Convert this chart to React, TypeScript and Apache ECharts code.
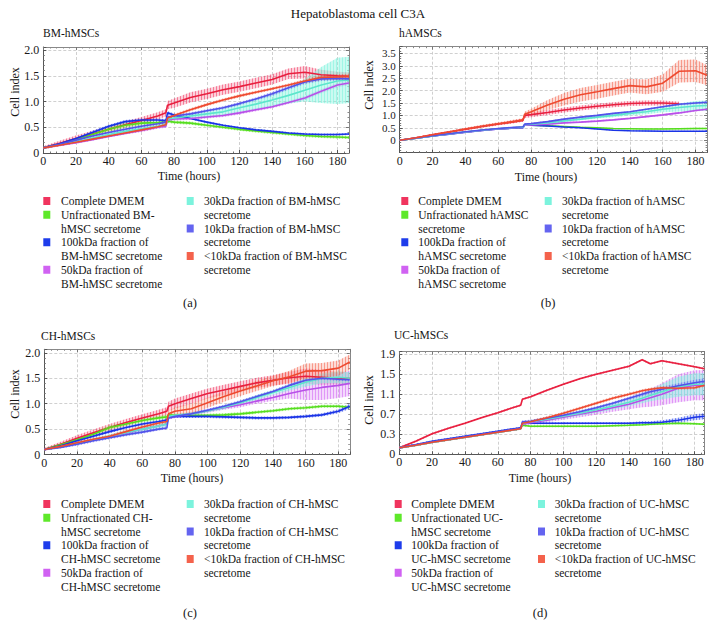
import React, { useEffect, useRef } from 'react';
import * as echarts from 'echarts';

const FONT = 'Liberation Serif, DejaVu Serif, Times New Roman, serif';
const MAIN_TITLE = 'Hepatoblastoma cell C3A';
const PANEL_TITLES = ['BM-hMSCs', 'hAMSCs', 'CH-hMSCs', 'UC-hMSCs'];
const PANEL_TAGS = ['(a)', '(b)', '(c)', '(d)'];
const X_NAME = 'Time (hours)';
const Y_NAME = 'Cell index';

const SWATCH_COLORS = ['#F0345E', '#5EE82A', '#1E3CEB', '#D062F2', '#7CF3DD', '#6464F0', '#F4624C'];
const LINE_COLORS = ['#E8203F', '#55DD1E', '#1A33E6', '#B850E8', '#5EE6CC', '#5252EA', '#EE4A30'];
const BAND_OPACITY = [0.22, 0.25, 0.2, 0.25, 0.4, 0.2, 0.22];

// Legend texts (per panel)
const LEGEND_A = [
  ['Complete DMEM'], ['Unfractionated BM-', 'hMSC secretome'], ['100kDa fraction of', 'BM-hMSC secretome'], ['50kDa fraction of', 'BM-hMSC secretome'],
  ['30kDa fraction of BM-hMSC', 'secretome'], ['10kDa fraction of BM-hMSC', 'secretome'], ['<10kDa fraction of BM-hMSC', 'secretome'],
];
const LEGEND_B = [
  ['Complete DMEM'], ['Unfractionated hAMSC', 'secretome'], ['100kDa fraction of', 'hAMSC secretome'], ['50kDa fraction of', 'hAMSC secretome'],
  ['30kDa fraction of hAMSC', 'secretome'], ['10kDa fraction of hAMSC', 'secretome'], ['<10kDa fraction of hAMSC', 'secretome'],
];
const LEGEND_C = [
  ['Complete DMEM'], ['Unfractionated CH-', 'hMSC secretome'], ['100kDa fraction of', 'CH-hMSC secretome'], ['50kDa fraction of', 'CH-hMSC secretome'],
  ['30kDa fraction of CH-hMSC', 'secretome'], ['10kDa fraction of CH-hMSC', 'secretome'], ['<10kDa fraction of CH-hMSC', 'secretome'],
];
const LEGEND_D = [
  ['Complete DMEM'], ['Unfractionated UC-', 'hMSC secretome'], ['100kDa fraction of', 'UC-hMSC secretome'], ['50kDa fraction of', 'UC-hMSC secretome'],
  ['30kDa fraction of UC-hMSC', 'secretome'], ['10kDa fraction of UC-hMSC', 'secretome'], ['<10kDa fraction of UC-hMSC', 'secretome'],
];

// ---------- Panel A (BM-hMSCs) ----------
const timesA = [0, 10, 20, 30, 40, 50, 60, 70, 75, 76, 80, 90, 100, 110, 120, 130, 140, 150, 160, 170, 180, 187];
const dmemA = [0.10, 0.19, 0.28, 0.37, 0.46, 0.55, 0.63, 0.72, 0.78, 0.93, 0.97, 1.08, 1.15, 1.23, 1.29, 1.36, 1.43, 1.54, 1.57, 1.52, 1.50, 1.49];
const unfracA = [0.10, 0.17, 0.26, 0.36, 0.46, 0.54, 0.58, 0.59, 0.60, 0.62, 0.60, 0.58, 0.54, 0.50, 0.46, 0.43, 0.40, 0.37, 0.34, 0.32, 0.31, 0.30];
const kda100A = [0.10, 0.18, 0.28, 0.40, 0.52, 0.61, 0.64, 0.64, 0.63, 0.78, 0.74, 0.67, 0.60, 0.54, 0.49, 0.45, 0.42, 0.39, 0.37, 0.36, 0.36, 0.37];
const kda50A = [0.10, 0.15, 0.20, 0.26, 0.32, 0.38, 0.44, 0.50, 0.52, 0.64, 0.66, 0.67, 0.70, 0.73, 0.78, 0.84, 0.90, 0.98, 1.07, 1.20, 1.32, 1.36];
const kda30A = [0.10, 0.16, 0.22, 0.29, 0.36, 0.42, 0.47, 0.52, 0.55, 0.66, 0.68, 0.72, 0.76, 0.80, 0.88, 0.95, 1.03, 1.12, 1.22, 1.32, 1.40, 1.42];
const kda10A = [0.10, 0.17, 0.25, 0.33, 0.40, 0.46, 0.52, 0.57, 0.60, 0.70, 0.72, 0.76, 0.82, 0.88, 0.96, 1.05, 1.15, 1.27, 1.38, 1.44, 1.45, 1.44];
const lt10A = [0.10, 0.15, 0.21, 0.27, 0.33, 0.39, 0.45, 0.51, 0.55, 0.68, 0.73, 0.84, 0.94, 1.03, 1.11, 1.18, 1.25, 1.32, 1.40, 1.47, 1.48, 1.49];
const errDmemA = [0.03, 0.05, 0.06, 0.06, 0.06, 0.06, 0.07, 0.07, 0.07, 0.08, 0.09, 0.10, 0.10, 0.10, 0.10, 0.10, 0.10, 0.10, 0.12, 0.10, 0.08, 0.08];
const errUnfracA = [0.02, 0.03, 0.03, 0.04, 0.05, 0.05, 0.05, 0.04, 0.04, 0.03, 0.03, 0.03, 0.03, 0.03, 0.03, 0.03, 0.03, 0.03, 0.03, 0.03, 0.03, 0.03];
const err100A = [0.02, 0.02, 0.02, 0.03, 0.03, 0.03, 0.03, 0.03, 0.03, 0.03, 0.03, 0.02, 0.02, 0.02, 0.02, 0.02, 0.02, 0.02, 0.02, 0.02, 0.02, 0.02];
const err50A = [0.02, 0.02, 0.02, 0.02, 0.02, 0.02, 0.03, 0.03, 0.03, 0.03, 0.03, 0.03, 0.03, 0.03, 0.03, 0.03, 0.03, 0.03, 0.04, 0.04, 0.04, 0.04];
const err30A = [0.02, 0.02, 0.02, 0.03, 0.03, 0.03, 0.03, 0.03, 0.03, 0.04, 0.04, 0.05, 0.06, 0.07, 0.08, 0.10, 0.12, 0.16, 0.22, 0.35, 0.45, 0.45];
const err10A = [0.02, 0.02, 0.02, 0.02, 0.02, 0.03, 0.03, 0.03, 0.03, 0.03, 0.03, 0.03, 0.03, 0.03, 0.03, 0.03, 0.04, 0.04, 0.04, 0.04, 0.04, 0.04];
const errLt10A = [0.02, 0.02, 0.02, 0.02, 0.02, 0.02, 0.03, 0.03, 0.03, 0.03, 0.03, 0.03, 0.03, 0.03, 0.03, 0.03, 0.03, 0.03, 0.04, 0.05, 0.05, 0.05];

// ---------- Panel B (hAMSCs) ----------
const timesB = [0, 10, 20, 30, 40, 50, 60, 70, 75, 76, 80, 90, 100, 110, 120, 130, 140, 150, 160, 170, 180, 187];
const dmemB = [0, 0.10, 0.22, 0.33, 0.44, 0.55, 0.65, 0.75, 0.80, 1.00, 1.03, 1.12, 1.22, 1.30, 1.37, 1.43, 1.48, 1.50, 1.50, 1.47, null, null];
const unfracB = [0, 0.08, 0.17, 0.25, 0.33, 0.40, 0.46, 0.50, 0.52, 0.62, 0.60, 0.58, 0.55, 0.52, 0.50, 0.47, 0.46, 0.45, 0.45, 0.46, 0.47, 0.47];
const kda100B = [0, 0.08, 0.17, 0.24, 0.32, 0.39, 0.45, 0.49, 0.50, 0.62, 0.60, 0.57, 0.53, 0.50, 0.45, 0.40, 0.38, 0.37, 0.36, 0.36, 0.36, 0.36];
const kda50B = [0, 0.08, 0.17, 0.24, 0.32, 0.39, 0.45, 0.50, 0.51, 0.60, 0.61, 0.65, 0.70, 0.73, 0.77, 0.82, 0.88, 0.95, 1.02, 1.10, 1.20, 1.25];
const kda30B = [0, 0.08, 0.17, 0.25, 0.33, 0.40, 0.46, 0.51, 0.52, 0.62, 0.64, 0.70, 0.78, 0.85, 0.93, 1.00, 1.08, 1.15, 1.25, 1.32, 1.38, 1.40];
const kda10B = [0, 0.09, 0.18, 0.26, 0.34, 0.41, 0.47, 0.52, 0.54, 0.65, 0.67, 0.75, 0.85, 0.93, 1.00, 1.08, 1.15, 1.25, 1.35, 1.45, 1.50, 1.53];
const lt10B = [0, 0.10, 0.22, 0.33, 0.45, 0.56, 0.66, 0.76, 0.82, 1.05, 1.15, 1.42, 1.65, 1.83, 1.95, 2.08, 2.20, 2.15, 2.30, 2.78, 2.80, 2.62];
const errDmemB = [0.02, 0.03, 0.04, 0.04, 0.05, 0.05, 0.05, 0.06, 0.06, 0.10, 0.10, 0.10, 0.10, 0.10, 0.10, 0.10, 0.10, 0.10, 0.10, 0.08, null, null];
const errUnfracB = [0.02, 0.02, 0.02, 0.02, 0.02, 0.02, 0.02, 0.02, 0.02, 0.02, 0.02, 0.02, 0.02, 0.02, 0.02, 0.02, 0.02, 0.02, 0.02, 0.03, 0.03, 0.03];
const err100B = [0.02, 0.02, 0.02, 0.02, 0.02, 0.02, 0.02, 0.02, 0.02, 0.02, 0.02, 0.02, 0.02, 0.02, 0.02, 0.02, 0.02, 0.02, 0.02, 0.02, 0.02, 0.02];
const err50B = [0.02, 0.02, 0.02, 0.02, 0.02, 0.02, 0.02, 0.02, 0.02, 0.03, 0.03, 0.03, 0.03, 0.03, 0.03, 0.03, 0.03, 0.03, 0.04, 0.04, 0.04, 0.04];
const err30B = [0.02, 0.02, 0.02, 0.02, 0.02, 0.02, 0.02, 0.02, 0.02, 0.03, 0.03, 0.04, 0.05, 0.05, 0.06, 0.07, 0.08, 0.10, 0.12, 0.16, 0.20, 0.20];
const err10B = [0.02, 0.02, 0.02, 0.02, 0.02, 0.02, 0.02, 0.02, 0.02, 0.03, 0.03, 0.03, 0.03, 0.03, 0.03, 0.03, 0.03, 0.03, 0.04, 0.04, 0.04, 0.04];
const errLt10B = [0.02, 0.03, 0.04, 0.05, 0.05, 0.06, 0.06, 0.07, 0.07, 0.10, 0.12, 0.20, 0.25, 0.27, 0.28, 0.28, 0.28, 0.30, 0.35, 0.45, 0.45, 0.40];

// ---------- Panel C (CH-hMSCs) ----------
const timesC = [0, 10, 20, 30, 40, 50, 60, 70, 75, 76, 80, 90, 100, 110, 120, 130, 140, 150, 160, 170, 180, 187];
const dmemC = [0.10, 0.20, 0.32, 0.43, 0.53, 0.63, 0.72, 0.80, 0.85, 0.95, 1.00, 1.10, 1.20, 1.27, 1.34, 1.41, 1.46, 1.51, 1.54, 1.52, 1.50, 1.50];
const unfracC = [0.10, 0.19, 0.29, 0.40, 0.53, 0.60, 0.67, 0.72, 0.74, 0.78, 0.77, 0.77, 0.77, 0.78, 0.80, 0.83, 0.86, 0.90, 0.92, 0.95, 0.95, 0.93];
const kda100C = [0.10, 0.17, 0.27, 0.36, 0.45, 0.53, 0.60, 0.65, 0.68, 0.75, 0.75, 0.75, 0.75, 0.74, 0.73, 0.72, 0.72, 0.73, 0.75, 0.78, 0.85, 0.95];
const kda50C = [0.10, 0.15, 0.22, 0.29, 0.35, 0.42, 0.50, 0.56, 0.60, 0.72, 0.75, 0.80, 0.86, 0.92, 0.98, 1.05, 1.12, 1.20, 1.27, 1.32, 1.36, 1.40];
const kda30C = [0.10, 0.15, 0.22, 0.29, 0.36, 0.43, 0.50, 0.56, 0.60, 0.75, 0.77, 0.80, 0.86, 0.93, 1.02, 1.12, 1.22, 1.32, 1.42, 1.50, 1.52, 1.50];
const kda10C = [0.10, 0.14, 0.20, 0.27, 0.33, 0.39, 0.44, 0.50, 0.52, 0.72, 0.75, 0.80, 0.87, 0.95, 1.04, 1.14, 1.24, 1.36, 1.46, 1.50, 1.48, 1.47];
const lt10C = [0.10, 0.16, 0.23, 0.30, 0.36, 0.45, 0.54, 0.62, 0.65, 0.80, 0.85, 0.90, 1.02, 1.14, 1.25, 1.35, 1.45, 1.53, 1.64, 1.65, 1.70, 1.82];
const errDmemC = [0.03, 0.05, 0.06, 0.06, 0.07, 0.07, 0.07, 0.08, 0.08, 0.09, 0.10, 0.10, 0.10, 0.10, 0.10, 0.10, 0.10, 0.12, 0.15, 0.15, 0.12, 0.12];
const errUnfracC = [0.02, 0.03, 0.03, 0.04, 0.04, 0.04, 0.04, 0.04, 0.04, 0.03, 0.03, 0.03, 0.03, 0.03, 0.03, 0.03, 0.03, 0.03, 0.03, 0.03, 0.03, 0.03];
const err100C = [0.02, 0.03, 0.03, 0.03, 0.03, 0.03, 0.03, 0.03, 0.03, 0.03, 0.03, 0.03, 0.03, 0.03, 0.03, 0.03, 0.03, 0.03, 0.03, 0.03, 0.04, 0.05];
const err50C = [0.02, 0.02, 0.02, 0.02, 0.03, 0.03, 0.03, 0.03, 0.03, 0.03, 0.03, 0.03, 0.04, 0.04, 0.05, 0.05, 0.06, 0.10, 0.20, 0.25, 0.25, 0.25];
const err30C = [0.02, 0.02, 0.03, 0.03, 0.04, 0.05, 0.05, 0.05, 0.05, 0.03, 0.03, 0.03, 0.03, 0.04, 0.04, 0.05, 0.05, 0.06, 0.08, 0.10, 0.12, 0.12];
const err10C = [0.02, 0.02, 0.03, 0.03, 0.03, 0.03, 0.03, 0.03, 0.03, 0.03, 0.03, 0.03, 0.03, 0.03, 0.03, 0.03, 0.03, 0.03, 0.03, 0.03, 0.03, 0.03];
const errLt10C = [0.02, 0.02, 0.03, 0.03, 0.03, 0.04, 0.04, 0.04, 0.04, 0.06, 0.08, 0.10, 0.10, 0.10, 0.10, 0.10, 0.10, 0.12, 0.15, 0.15, 0.15, 0.15];

// ---------- Panel D (UC-hMSCs) ----------
const timesD = [0, 10, 20, 30, 40, 50, 60, 70, 74, 75, 80, 90, 100, 110, 120, 130, 140, 148, 153, 160, 170, 180, 186];
const dmemD = [0.03, 0.16, 0.31, 0.42, 0.52, 0.63, 0.73, 0.84, 0.88, 1.00, 1.05, 1.18, 1.30, 1.41, 1.50, 1.58, 1.66, 1.79, 1.71, 1.77, 1.71, 1.65, 1.61];
const unfracD = [0.03, 0.08, 0.14, 0.19, 0.24, 0.29, 0.34, 0.39, 0.41, 0.48, 0.46, 0.46, 0.46, 0.46, 0.46, 0.47, 0.48, 0.49, 0.50, 0.51, 0.52, 0.51, 0.50];
const kda100D = [0.03, 0.09, 0.16, 0.21, 0.26, 0.31, 0.36, 0.41, 0.43, 0.52, 0.52, 0.52, 0.52, 0.52, 0.52, 0.52, 0.52, 0.53, 0.53, 0.54, 0.58, 0.64, 0.66];
const kda50D = [0.03, 0.08, 0.14, 0.19, 0.24, 0.29, 0.34, 0.39, 0.41, 0.50, 0.53, 0.58, 0.64, 0.70, 0.76, 0.83, 0.90, 0.98, 1.03, 1.10, 1.22, 1.28, 1.28];
const kda30D = [0.03, 0.08, 0.14, 0.19, 0.24, 0.29, 0.34, 0.39, 0.41, 0.52, 0.55, 0.60, 0.66, 0.72, 0.79, 0.86, 0.94, 1.02, 1.08, 1.15, 1.25, 1.30, 1.30];
const kda10D = [0.03, 0.09, 0.15, 0.20, 0.25, 0.30, 0.35, 0.40, 0.42, 0.55, 0.56, 0.62, 0.68, 0.75, 0.83, 0.92, 1.02, 1.10, 1.15, 1.20, 1.27, 1.33, 1.36];
const lt10D = [0.03, 0.08, 0.14, 0.19, 0.24, 0.29, 0.34, 0.39, 0.41, 0.52, 0.55, 0.63, 0.72, 0.82, 0.92, 1.02, 1.10, 1.17, 1.20, 1.23, 1.22, 1.23, 1.28];
const errDmemD = [0.02, 0.02, 0.02, 0.02, 0.02, 0.02, 0.02, 0.02, 0.02, 0.02, 0.02, 0.02, 0.02, 0.02, 0.02, 0.02, 0.02, 0.02, 0.02, 0.02, 0.02, 0.02, 0.02];
const errUnfracD = [0.02, 0.02, 0.02, 0.02, 0.02, 0.02, 0.02, 0.02, 0.02, 0.02, 0.02, 0.02, 0.02, 0.02, 0.02, 0.02, 0.02, 0.02, 0.02, 0.02, 0.02, 0.02, 0.02];
const err100D = [0.02, 0.02, 0.02, 0.02, 0.02, 0.02, 0.02, 0.02, 0.02, 0.02, 0.02, 0.02, 0.02, 0.02, 0.02, 0.02, 0.02, 0.03, 0.03, 0.04, 0.05, 0.06, 0.06];
const err50D = [0.02, 0.02, 0.02, 0.02, 0.02, 0.02, 0.02, 0.02, 0.02, 0.03, 0.03, 0.04, 0.05, 0.06, 0.07, 0.08, 0.10, 0.14, 0.18, 0.22, 0.28, 0.30, 0.30];
const err30D = [0.02, 0.02, 0.02, 0.02, 0.02, 0.02, 0.02, 0.02, 0.02, 0.03, 0.03, 0.04, 0.04, 0.05, 0.06, 0.07, 0.08, 0.10, 0.12, 0.15, 0.20, 0.22, 0.22];
const err10D = [0.02, 0.02, 0.02, 0.02, 0.02, 0.02, 0.02, 0.02, 0.02, 0.03, 0.03, 0.03, 0.03, 0.03, 0.03, 0.03, 0.03, 0.04, 0.04, 0.05, 0.05, 0.06, 0.06];
const errLt10D = [0.02, 0.02, 0.02, 0.02, 0.02, 0.02, 0.02, 0.02, 0.02, 0.03, 0.03, 0.03, 0.03, 0.03, 0.03, 0.03, 0.03, 0.03, 0.03, 0.03, 0.03, 0.03, 0.03];

const DATA = [
  { times: timesA, means: [dmemA, unfracA, kda100A, kda50A, kda30A, kda10A, lt10A], errs: [errDmemA, errUnfracA, err100A, err50A, err30A, err10A, errLt10A], legend: LEGEND_A },
  { times: timesB, means: [dmemB, unfracB, kda100B, kda50B, kda30B, kda10B, lt10B], errs: [errDmemB, errUnfracB, err100B, err50B, err30B, err10B, errLt10B], legend: LEGEND_B },
  { times: timesC, means: [dmemC, unfracC, kda100C, kda50C, kda30C, kda10C, lt10C], errs: [errDmemC, errUnfracC, err100C, err50C, err30C, err10C, errLt10C], legend: LEGEND_C },
  { times: timesD, means: [dmemD, unfracD, kda100D, kda50D, kda30D, kda10D, lt10D], errs: [errDmemD, errUnfracD, err100D, err50D, err30D, err10D, errLt10D], legend: LEGEND_D },
];

// Layout (pixels) and axis ranges per panel
const LAYOUT = [
  { left: 43.3, top: 47, width: 305.7, height: 106, xMax: 187, yMin: 0, yMax: 2.06, yInt: 0.5, yFont: 12,
    sub: [43, 33], yName: [15, 92], xName: [189, 176], tag: [190, 303], leg: [43.3, 61, 186.7, 204, 201] },
  { left: 399.7, top: 46.7, width: 307.4, height: 105.9, xMax: 187, yMin: -0.5, yMax: 3.77, yInt: 0.5, yFont: 11,
    sub: [399, 33], yName: [369, 85], xName: [546, 177], tag: [548, 303], leg: [401.3, 418.3, 544.7, 562, 201] },
  { left: 44.3, top: 349.3, width: 305.5, height: 105.2, xMax: 187, yMin: 0, yMax: 2.07, yInt: 0.5, yFont: 12,
    sub: [41, 336], yName: [15, 394], xName: [192, 478], tag: [190, 613], leg: [43.3, 61, 186.7, 204, 504] },
  { left: 399.3, top: 351.7, width: 305.2, height: 102.5, xMax: 186, yMin: -0.1, yMax: 1.95, yInt: 0.4, yFont: 12,
    sub: [394, 335], yName: [369, 400], xName: [540, 478], tag: [540, 613], leg: [394.7, 411.3, 538, 554.7, 504] },
];

function yFormatter(k: number) {
  return (v: number) => {
    if (k === 3) {
      if (Math.abs(v + 0.1) < 1e-6) return '0';
      return v.toFixed(1);
    }
    if (v < -1e-6) return '';
    if (Math.abs(v) < 1e-6) return '0';
    return v.toFixed(1);
  };
}

// vertical-stripe pattern imitating dense error bars
function stripePattern(color: string): any {
  try {
    const c = document.createElement('canvas');
    c.width = 3;
    c.height = 4;
    const ctx = c.getContext('2d');
    if (!ctx) return null;
    ctx.globalAlpha = 0.55;
    ctx.fillStyle = color;
    ctx.fillRect(0, 0, 1, 4);
    return { image: c, repeat: 'repeat' };
  } catch (e) {
    return null;
  }
}

function buildOption() {
  const grid: any[] = [];
  const xAxis: any[] = [];
  const yAxis: any[] = [];
  const series: any[] = [];
  const graphic: any[] = [];

  graphic.push({ type: 'text', x: 358, y: 13.5, style: { text: MAIN_TITLE, fontFamily: FONT, fontSize: 13, fill: '#111', textAlign: 'center', textVerticalAlign: 'middle' } });

  LAYOUT.forEach((L, k) => {
    grid.push({ left: L.left, top: L.top, width: L.width, height: L.height, show: false });
    const axisLineStyle = { color: '#555', width: 1 };
    xAxis.push({
      type: 'value', gridIndex: k, min: 0, max: L.xMax, interval: 20, position: 'bottom',
      axisLine: { show: true, onZero: false, lineStyle: axisLineStyle },
      axisTick: { show: true, inside: true, length: 3, lineStyle: { color: '#555' } },
      minorTick: { show: true, splitNumber: 5, length: 1.5, lineStyle: { color: '#777' } },
      axisLabel: { show: true, fontFamily: FONT, fontSize: 12, color: '#1a1a1a', margin: 2, showMaxLabel: false },
      splitLine: { show: true, lineStyle: { color: '#c4c4c4', type: [3, 2], width: 0.8 } },
    });
    yAxis.push({
      type: 'value', gridIndex: k, min: L.yMin, max: L.yMax, interval: L.yInt, position: 'left',
      axisLine: { show: true, onZero: false, lineStyle: axisLineStyle },
      axisTick: { show: true, inside: true, length: 3, lineStyle: { color: '#555' } },
      minorTick: { show: true, splitNumber: 5, length: 1.5, lineStyle: { color: '#777' } },
      axisLabel: { show: true, fontFamily: FONT, fontSize: L.yFont, lineHeight: 11, color: '#1a1a1a', margin: 4, showMaxLabel: false, formatter: yFormatter(k) },
      splitLine: { show: true, lineStyle: { color: '#c4c4c4', type: [3, 2], width: 0.8 } },
    });
  });
  // mirrored frame axes (top / right)
  LAYOUT.forEach((L, k) => {
    xAxis.push({
      type: 'value', gridIndex: k, min: 0, max: L.xMax, interval: 20, position: 'top',
      axisLine: { show: true, onZero: false, lineStyle: { color: '#888', width: 1 } },
      axisTick: { show: true, inside: true, length: 3, lineStyle: { color: '#777' } },
      minorTick: { show: true, splitNumber: 5, length: 1.5, lineStyle: { color: '#888' } },
      axisLabel: { show: false }, splitLine: { show: false },
    });
    yAxis.push({
      type: 'value', gridIndex: k, min: L.yMin, max: L.yMax, interval: L.yInt, position: 'right',
      axisLine: { show: true, onZero: false, lineStyle: { color: '#888', width: 1 } },
      axisTick: { show: true, inside: true, length: 3, lineStyle: { color: '#777' } },
      minorTick: { show: true, splitNumber: 5, length: 1.5, lineStyle: { color: '#888' } },
      axisLabel: { show: false }, splitLine: { show: false },
    });
  });

  const patterns = SWATCH_COLORS.map((c) => stripePattern(c));

  DATA.forEach((D, k) => {
    const L = LAYOUT[k];
    // bands
    D.means.forEach((mean, i) => {
      const err = D.errs[i];
      const pts: number[][] = [];
      D.times.forEach((t, j) => {
        const m = mean[j];
        const e = err[j];
        if (m == null || e == null) return;
        pts.push([t, m - e, m + e]);
      });
      series.push({
        type: 'custom', xAxisIndex: k, yAxisIndex: k, silent: true, z: 2, clip: true,
        data: pts,
        renderItem: (params: any, api: any) => {
          if (params.dataIndex !== 0) return null;
          const up = pts.map((p) => api.coord([p[0], p[2]]));
          const dn = pts.map((p) => api.coord([p[0], p[1]])).reverse();
          const poly = up.concat(dn);
          const children: any[] = [
            { type: 'polygon', shape: { points: poly }, style: { fill: SWATCH_COLORS[i], opacity: BAND_OPACITY[i] } },
          ];
          if (patterns[i]) {
            children.push({ type: 'polygon', shape: { points: poly }, style: { fill: patterns[i] } });
          }
          return { type: 'group', children };
        },
      });
    });
    // mean lines
    D.means.forEach((mean, i) => {
      series.push({
        type: 'line', name: D.legend[i].join(' '), xAxisIndex: k, yAxisIndex: k, z: 3,
        data: D.times.map((t, j) => [t, mean[j]]),
        symbol: 'none', showSymbol: false, connectNulls: false,
        lineStyle: { color: LINE_COLORS[i], width: 1.6 }, itemStyle: { color: LINE_COLORS[i] },
      });
    });

    const txt = (text: string, x: number, y: number, size: number, align: string, extra: any = {}) => ({
      type: 'text', x, y, ...extra,
      style: { text, fontFamily: FONT, fontSize: size, fill: '#151515', textAlign: align, textVerticalAlign: 'middle' },
    });
    graphic.push(txt(PANEL_TITLES[k], L.sub[0], L.sub[1], 11.5, 'left'));
    graphic.push(txt(Y_NAME, L.yName[0], L.yName[1], 12, 'center', { rotation: Math.PI / 2 }));
    graphic.push(txt(X_NAME, L.xName[0], L.xName[1], 12, 'center'));
    graphic.push(txt(PANEL_TAGS[k], L.tag[0], L.tag[1], 12.5, 'center'));

    // legend
    const [sx1, tx1, sx2, tx2, baseY] = L.leg;
    const rowH = 13.75;
    let row = 0;
    D.legend.forEach((lines, i) => {
      const col2 = i >= 4;
      if (i === 4) row = 0;
      const sx = col2 ? sx2 : sx1;
      const tx = col2 ? tx2 : tx1;
      const y0 = baseY + row * rowH;
      graphic.push({ type: 'rect', x: sx, y: y0 - 4, shape: { width: 7, height: 8 }, style: { fill: SWATCH_COLORS[i] } });
      lines.forEach((ln, li) => {
        graphic.push(txt(ln, tx, y0 + li * rowH, 11.5, 'left'));
      });
      row += lines.length;
    });
  });

  return {
    animation: false,
    backgroundColor: '#ffffff',
    textStyle: { fontFamily: FONT },
    grid, xAxis, yAxis, series, graphic,
  };
}

export default function App() {
  const ref = useRef<HTMLDivElement>(null);
  useEffect(() => {
    if (!ref.current) return;
    const chart = echarts.init(ref.current, null, { renderer: 'svg' });
    chart.setOption(buildOption() as any);
    return () => chart.dispose();
  }, []);
  return <div ref={ref} style={{ position: 'fixed', left: 0, top: 0, width: 716, height: 628, background: '#fff' }} />;
}
